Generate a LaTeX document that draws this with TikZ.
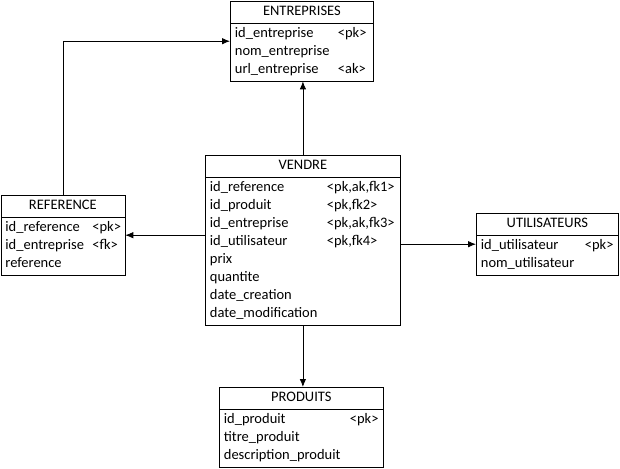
\documentclass[tikz,border=0pt]{standalone}
\usepackage{fontspec}
\setmainfont{Carlito}
\usetikzlibrary{shapes.multipart,arrows.meta}
\tikzset{
    erbox/.style={rectangle split, rectangle split parts=2, draw, line width=0.8pt,
        anchor=north west, inner xsep=4.5pt, inner ysep=1.5pt, align=center,
        font=\fontsize{14.5}{18}\selectfont},
    link/.style={draw, line width=0.8pt, -{Latex[length=8pt,width=6.5pt]}}
}

\begin{document}
\begin{tikzpicture}[x=1pt, y=-1pt]
    \useasboundingbox (0,0) rectangle (620,468);

    \node (ent) at (230,1) [erbox, text width=134pt]
        {\strut ENTREPRISES
        \nodepart{two}\begin{tabular}{@{}p{103pt}@{}p{31pt}@{}}
            id\_entreprise & <pk>\\
            nom\_entreprise & \\
            url\_entreprise & <ak>
        \end{tabular}};

    \node (ven) at (205,155) [erbox, text width=186pt]
        {\strut VENDRE
        \nodepart{two}\begin{tabular}{@{}p{117pt}@{}p{69pt}@{}}
            id\_reference & <pk,ak,fk1>\\
            id\_produit & <pk,fk2>\\
            id\_entreprise & <pk,ak,fk3>\\
            id\_utilisateur & <pk,fk4>\\
            prix & \\
            quantite & \\
            date\_creation & \\
            date\_modification &
        \end{tabular}};

    \node (ref) at (0.5,195) [erbox, text width=115pt]
        {\strut REFERENCE
        \nodepart{two}\begin{tabular}{@{}p{87pt}@{}p{28pt}@{}}
            id\_reference & <pk>\\
            id\_entreprise & <fk>\\
            reference &
        \end{tabular}};

    \node (uti) at (476,213) [erbox, text width=133pt]
        {\strut UTILISATEURS
        \nodepart{two}\begin{tabular}{@{}p{104pt}@{}p{29pt}@{}}
            id\_utilisateur & <pk>\\
            nom\_utilisateur &
        \end{tabular}};

    \node (pro) at (219,387) [erbox, text width=155pt]
        {\strut PRODUITS
        \nodepart{two}\begin{tabular}{@{}p{126pt}@{}p{29pt}@{}}
            id\_produit & <pk>\\
            titre\_produit & \\
            description\_produit &
        \end{tabular}};

    % links
    \draw[link] (ven.north) -- (ven.north |- ent.south);
    \draw[link] (ref.north) |- (ent.west);
    \draw[link] (ven.west |- ref.east) -- (ref.east);
    \draw[link] (ven.east |- uti.west) -- (uti.west);
    \draw[link] (ven.south) -- (ven.south |- pro.north);
\end{tikzpicture}
\end{document}
